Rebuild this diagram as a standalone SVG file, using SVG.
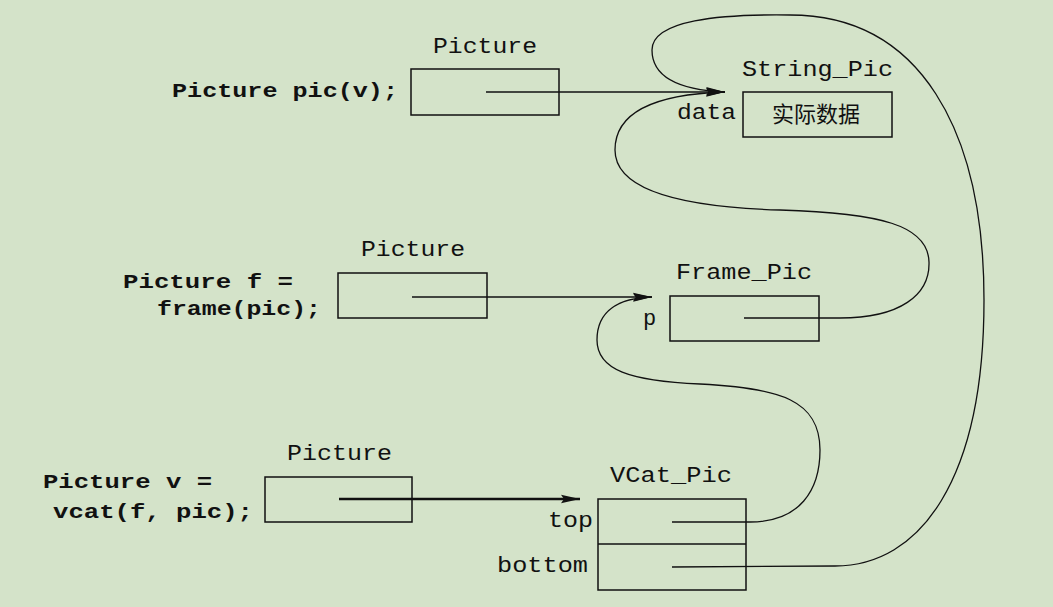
<svg xmlns="http://www.w3.org/2000/svg" width="1053" height="607" viewBox="0 0 1053 607">
<style>
.bg{fill:#d4e3c9}
.box{fill:none;stroke:#111;stroke-width:1.5}
.lbl{font-family:"Liberation Mono","DejaVu Sans Mono",monospace;font-size:22px;fill:#111}
.code{font-family:"Liberation Mono","DejaVu Sans Mono",monospace;font-size:21px;font-weight:bold;fill:#111}
.cjk{font-family:"Liberation Sans","Noto Sans CJK SC",sans-serif;font-size:22px;fill:#111}
.ln{fill:none;stroke:#111;stroke-width:1.3}
.thick{fill:none;stroke:#111;stroke-width:2.4}
</style>
<defs>
<marker id="ah" markerUnits="userSpaceOnUse" markerWidth="20" markerHeight="10" refX="19" refY="5" orient="auto">
<path d="M0,0.8 L19,5 L0,9.2 L3,5 z" fill="#111"/>
</marker>
</defs>
<rect class="bg" x="0" y="0" width="1053" height="607"/>

<g id="stmt1">
<text class="code" x="172" y="97" textLength="226" lengthAdjust="spacingAndGlyphs">Picture pic(v);</text>
</g>
<g id="pic1">
<text class="lbl" x="433" y="53" textLength="104" lengthAdjust="spacingAndGlyphs">Picture</text>
<rect class="box" x="411" y="69" width="148" height="46"/>
</g>
<g id="stringpic">
<text class="lbl" x="742" y="76" textLength="151" lengthAdjust="spacingAndGlyphs">String_Pic</text>
<rect class="box" x="743" y="92" width="149" height="45"/>
<text class="lbl" x="677" y="119" textLength="59" lengthAdjust="spacingAndGlyphs">data</text>
<text class="cjk" x="772" y="122" textLength="88" lengthAdjust="spacingAndGlyphs">实际数据</text>
</g>

<g id="stmt2">
<text class="code" x="123" y="288" textLength="170" lengthAdjust="spacingAndGlyphs">Picture f =</text>
<text class="code" x="157" y="315" textLength="164" lengthAdjust="spacingAndGlyphs">frame(pic);</text>
</g>
<g id="pic2">
<text class="lbl" x="361" y="256" textLength="104" lengthAdjust="spacingAndGlyphs">Picture</text>
<rect class="box" x="338" y="273" width="149" height="45"/>
</g>
<g id="framepic">
<text class="lbl" x="676" y="279" textLength="136" lengthAdjust="spacingAndGlyphs">Frame_Pic</text>
<rect class="box" x="670" y="296" width="149" height="45"/>
<text class="lbl" x="643" y="325">p</text>
</g>

<g id="stmt3">
<text class="code" x="43" y="488" textLength="169" lengthAdjust="spacingAndGlyphs">Picture v =</text>
<text class="code" x="53" y="518" textLength="200" lengthAdjust="spacingAndGlyphs">vcat(f, pic);</text>
</g>
<g id="pic3">
<text class="lbl" x="287" y="460" textLength="105" lengthAdjust="spacingAndGlyphs">Picture</text>
<rect class="box" x="265" y="477" width="147" height="45"/>
</g>
<g id="vcatpic">
<text class="lbl" x="610" y="482" textLength="122" lengthAdjust="spacingAndGlyphs">VCat_Pic</text>
<rect class="box" x="598" y="499" width="148" height="91"/>
<line class="box" x1="598" y1="544" x2="746" y2="544"/>
<text class="lbl" x="548" y="527" textLength="45" lengthAdjust="spacingAndGlyphs">top</text>
<text class="lbl" x="497" y="572" textLength="91" lengthAdjust="spacingAndGlyphs">bottom</text>
</g>

<g id="connectors">
<path class="ln" d="M486,92 L725,92" marker-end="url(#ah)"/>
<path class="ln" d="M412,297 L652,297" marker-end="url(#ah)"/>
<path class="thick" d="M339,499 L580,499" marker-end="url(#ah)"/>
<path class="ln" d="M672,567 L835,566 C920,566 984,480 984,300 C984,130 920,15 790,15 C720,14 652,20 652,50 C652,78 680,90 725,92" marker-end="url(#ah)"/>
<path class="ln" d="M744,318 L840,318 C900,318 930,295 929,262 C928,225 880,213 780,210 C680,207 615,190 615,150 C615,110 660,94 725,92" marker-end="url(#ah)"/>
<path class="ln" d="M672,522 L750,522 C800,522 820,490 820,450 C820,400 780,388 700,384 C630,381 597,370 597,340 C597,310 620,298 652,297" marker-end="url(#ah)"/>
</g>
</svg>
